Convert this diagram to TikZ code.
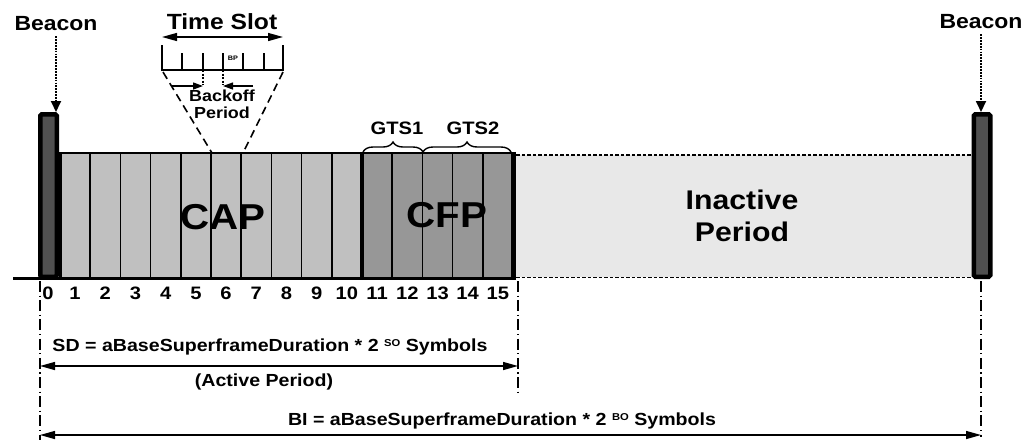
\documentclass[tikz,border=0pt]{standalone}
\usepackage{fontspec}
\setmainfont{Liberation Sans}[FakeStretch=1.12]
\usetikzlibrary{arrows.meta,decorations.pathreplacing,calc}
\definecolor{beaconfill}{HTML}{505050}
\definecolor{capfill}{HTML}{C0C0C0}
\definecolor{cfpfill}{HTML}{979797}
\definecolor{inactfill}{HTML}{E8E8E8}
\begin{document}
\begin{tikzpicture}[x=1pt,y=-1pt,
  txt/.style={font=\fontsize{#1}{#1}\selectfont\bfseries, inner sep=0pt, outer sep=0pt},
  beacon/.style={draw=black, line width=4.5pt, fill=beaconfill, minimum width=16.5pt, minimum height=162.5pt, inner sep=0pt, rounded corners=1.5pt},
  dotarrow/.style={line width=1.8pt, dash pattern=on 1.8pt off 1.1pt, -{Triangle[width=10pt,length=11pt]}},
  dimarrow/.style={line width=1.4pt, {Triangle[width=8pt,length=15pt]}-{Triangle[width=8pt,length=15pt]}},
  smallarrow/.style={line width=1.3pt, -{Triangle[width=7pt,length=10pt]}},
  dashdot/.style={line width=1.3pt, dash pattern=on 11pt off 3.5pt on 1.2pt off 3.5pt},
  divider/.style={line width=1.7pt},
  slant/.style={line width=1.6pt, dash pattern=on 8pt off 5pt},
  gtsbrace/.style={line width=1.4pt, decorate, decoration={brace, amplitude=10pt}},
]
\useasboundingbox (0,0) rectangle (1027,440);
\fill[white] (0,0) rectangle (1027,440);

% ---- areas
\fill[capfill] (60,153) rectangle (362,278);
\fill[cfpfill] (362,153) rectangle (513,278);
\fill[inactfill] (513,155) rectangle (972,277);
\foreach \k in {1,...,9,11,12,13,14}
  \draw[divider] ({60+30.2*\k},153) -- ({60+30.2*\k},278);
\draw[line width=2.6pt] (57,153) -- (513,153);
\draw[line width=3pt] (13,278) -- (513,278);
\draw[line width=3.5pt] (60.5,153) -- (60.5,279);
\draw[line width=4pt] (362,152) -- (362,279);
\draw[line width=5pt] (513,151.8) -- (513,279.5);
\draw[line width=1.4pt, dash pattern=on 3.5pt off 2pt] (516,155) -- (971,155);
\draw[line width=1.4pt, dash pattern=on 3.5pt off 2pt] (516,277.5) -- (971,277.5);

% ---- beacons
\node[beacon] (b1) at (48.5,195.5) {};
\node[beacon] (b2) at (982,195.5) {};
\node[txt=20.5] (bl1) at (56,24) {Beacon};
\node[txt=20.5] (bl2) at (981,22) {Beacon};
\draw[dotarrow, shorten <=5pt] (bl1) -- (bl1 |- b1.north);
\draw[dotarrow, shorten <=5pt] (bl2) -- (bl2 |- b2.north);

% ---- labels of areas
\node[txt=36] (cap) at (223,217) {CAP};
\node[txt=36] (cfp) at (447,215) {CFP};
\node[font=\fontsize{27}{32}\selectfont\bfseries, align=center, inner sep=0pt] (inact) at (742,216) {Inactive\\Period};

% ---- GTS braces
\draw[gtsbrace] (363,152) -- (423,152);
\draw[gtsbrace] (423,152) -- (511,152);
\node[txt=18] (g1) at (397,128) {GTS1};
\node[txt=18] (g2) at (473,128) {GTS2};

% ---- slot numbers
\node[txt=18] (n0) at (48,293) {0};
\foreach \k in {1,...,15}
  \node[txt=18] (n\k) at ({60+30.2*(\k-0.5)},293) {\k};

% ---- time slot detail
\node[txt=22] (ts) at (222,22) {Time Slot};
\coordinate (tsL) at (162,37);
\coordinate (tsR) at (283,37);
\draw[dimarrow] (tsL) -- (tsR);
\draw[line width=1.5pt] (162,45) -- (162,70) -- (283,70) -- (283,45);
\foreach \x in {182,203,223,243,264}
  \draw[line width=1.5pt] (\x,53) -- (\x,70);
\node[txt=6.5] (bp) at (233,58) {BP};
\draw[line width=1.5pt, dash pattern=on 2pt off 1.5pt] (203,70) -- (203,85);
\draw[line width=1.5pt, dash pattern=on 2pt off 1.5pt] (223,70) -- (223,85);
\coordinate (boL) at (172,86);
\coordinate (boLt) at (203,86);
\coordinate (boR) at (253,86);
\coordinate (boRt) at (223,86);
\draw[smallarrow] (boL) -- (boLt);
\draw[smallarrow] (boR) -- (boRt);
\node[font=\fontsize{16}{17}\selectfont\bfseries, align=center, inner sep=0pt] (bo) at (222,104.5) {Backoff\\Period};
\draw[slant] (163,72) -- (212,153);
\draw[slant] (283,72) -- (243,153);

% ---- dimension lines
\coordinate (dL1) at (40,281);
\coordinate (dL2) at (40,440);
\coordinate (dM1) at (518,281);
\coordinate (dM2) at (518,392);
\coordinate (dR1) at (981,281);
\coordinate (dR2) at (981,437);
\draw[dashdot] (dL1) -- (dL2);
\draw[dashdot] (dM1) -- (dM2);
\draw[dashdot] (dR1) -- (dR2);

\node[txt=17.5] (sd) at (270,347) {SD = aBaseSuperframeDuration * 2 \raisebox{0.55ex}{\fontsize{10}{10}\selectfont SO} Symbols};
\draw[dimarrow] (dL1 |- 0,366) -- (dM1 |- 0,366);
\node[txt=17.5] (ap) at (264,382) {(Active Period)};

\node[txt=17.5] (bi) at (502,421) {BI = aBaseSuperframeDuration * 2 \raisebox{0.55ex}{\fontsize{10}{10}\selectfont BO} Symbols};
\draw[dimarrow] (dL1 |- 0,435) -- (dR1 |- 0,435);
\end{tikzpicture}
\end{document}
